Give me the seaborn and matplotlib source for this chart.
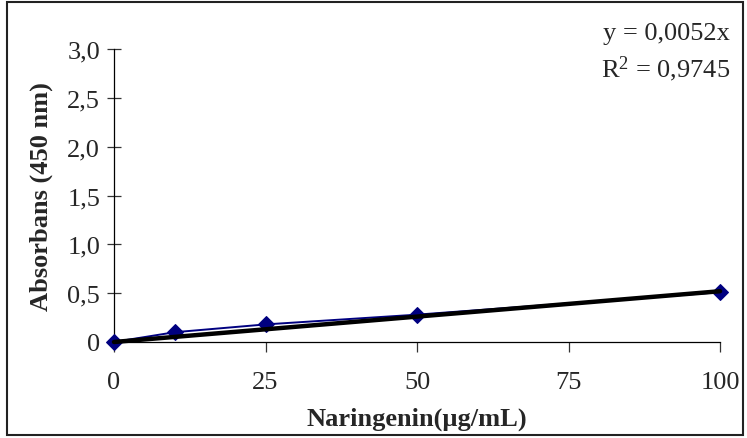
import matplotlib
matplotlib.use("Agg")
import matplotlib.pyplot as plt
from matplotlib.ticker import FuncFormatter
from matplotlib.patches import Rectangle
import numpy as np
import pandas as pd
import seaborn as sns

# Calibration data: naringenin concentration vs. absorbance at 450 nm
concentration = [0, 10, 25, 50, 100]
absorbance = [0.0, 0.10, 0.18, 0.28, 0.51]

# Linear trendline through the origin
slope = 0.0052
r_squared = 0.9745

x_ticks = [0, 25, 50, 75, 100]
y_ticks = [0, 0.5, 1.0, 1.5, 2.0, 2.5, 3.0]

sns.set_style("white")
plt.rcParams["font.family"] = ["Liberation Serif", "DejaVu Serif"]
plt.rcParams["mathtext.fontset"] = "custom"
plt.rcParams["mathtext.rm"] = "Liberation Serif"
plt.rcParams["mathtext.it"] = "Liberation Serif"

FS = 19

df = pd.DataFrame({"conc": concentration, "abs": absorbance})

fig = plt.figure(figsize=(7.47, 4.39), dpi=100)
ax = fig.add_axes([0.1526, 0.2187, 0.8113, 0.6673])

sns.lineplot(data=df, x="conc", y="abs", ax=ax, color="#000080",
             linewidth=1.4, marker="D", markersize=8,
             markeredgecolor="#000080", markerfacecolor="#000080",
             zorder=3, clip_on=False)

trend_x = np.array([concentration[0], concentration[-1]], dtype=float)
ax.plot(trend_x, slope * trend_x, color="black", linewidth=3.2,
        solid_capstyle="round", zorder=4, clip_on=False)

ax.set_xlim(0, 100)
ax.set_ylim(0, 3.0)
ax.set_xticks(x_ticks)
ax.set_yticks(y_ticks)
ax.xaxis.set_major_formatter(FuncFormatter(lambda v, p: f"{v:g}"))
ax.yaxis.set_major_formatter(
    FuncFormatter(lambda v, p: "0" if v == 0 else f"{v:.1f}".replace(".", ",")))

for side in ("top", "right"):
    ax.spines[side].set_visible(False)
for side in ("left", "bottom"):
    ax.spines[side].set_color("black")
    ax.spines[side].set_linewidth(0.9)

ax.tick_params(axis="x", direction="out", length=7, width=0.9, color="#333333",
               labelsize=FS, pad=14)
ax.tick_params(axis="y", direction="inout", length=10, width=0.9, color="#333333",
               labelsize=FS, pad=5)
ax.tick_params(left=True, bottom=True)

ax.set_xlabel("Naringenin(µg/mL)", fontsize=FS, fontweight="bold", labelpad=10)
ax.set_ylabel("Absorbans (450 nm)", fontsize=FS, fontweight="bold", labelpad=10)
ax.patch.set_alpha(0)

fig.text(0.977, 0.922, "y = " + f"{slope:.4f}".replace(".", ",") + "x",
         ha="right", va="center", fontsize=FS)
fig.text(0.977, 0.842, r"R$^{2}$ = " + f"{r_squared:.4f}".replace(".", ","),
         ha="right", va="center", fontsize=FS)

fig.add_artist(Rectangle((7 / 747, 3 / 439), 736 / 747, 433 / 439,
                         transform=fig.transFigure, fill=False,
                         edgecolor="#222222", linewidth=1.5))

fig.savefig("out.png", dpi=100)
